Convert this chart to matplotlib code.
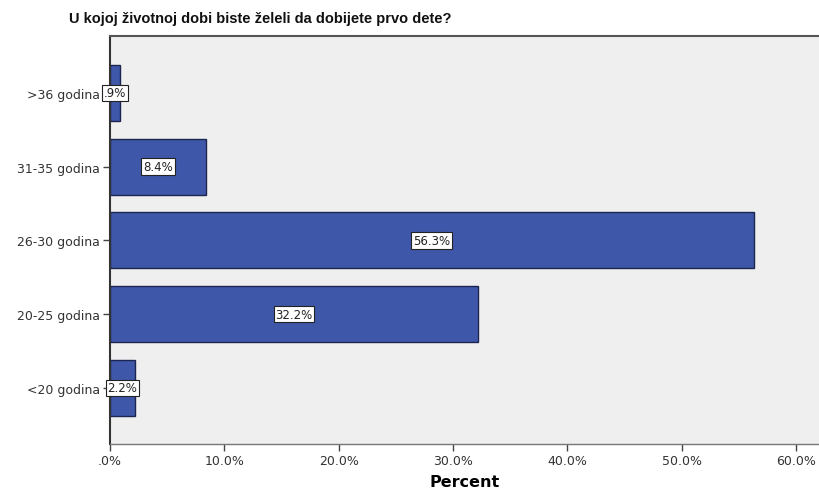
import matplotlib
matplotlib.use('Agg')
import matplotlib.pyplot as plt

# data, bottom to top
categories = ['<20 godina', '20-25 godina', '26-30 godina', '31-35 godina', '>36 godina']
percents = [2.2, 32.2, 56.3, 8.4, 0.9]
labels = ['2.2%', '32.2%', '56.3%', '8.4%', '.9%']
xticks = [0, 10, 20, 30, 40, 50, 60]
xticklabels = ['.0%', '10.0%', '20.0%', '30.0%', '40.0%', '50.0%', '60.0%']

plt.rcParams['font.family'] = ['DejaVu Sans']

fig = plt.figure(figsize=(8.2, 4.89), dpi=100)
ax = fig.add_axes([0.134, 0.09, 0.866, 0.834])
ax.set_facecolor('#efefef')

pos = list(range(len(categories)))
ax.barh(pos, percents, height=0.76, color='#3f57a9', edgecolor='#1c2450', linewidth=1.0)

# value labels in white boxes at the middle of each bar
for p, v, lab in zip(pos, percents, labels):
	ax.text(v / 2.0, p, lab, ha='center', va='center', fontsize=8.5, color='#222222',
		bbox=dict(boxstyle='square,pad=0.15', facecolor='white', edgecolor='#222222', linewidth=0.8))

ax.set_xlim(0, 62.1)
ax.set_ylim(-0.76, 4.77)
ax.set_yticks(pos)
ax.set_yticklabels(categories, fontsize=9, color='#333333')
ax.set_xticks(xticks)
ax.set_xticklabels(xticklabels, fontsize=9, color='#333333')
ax.tick_params(axis='both', direction='out', length=5, width=1, color='#444444', pad=2)
ax.set_xlabel('Percent', fontsize=11.5, fontweight='bold', labelpad=5)

ax.spines['right'].set_visible(False)
ax.spines['left'].set_color('#333333')
ax.spines['left'].set_linewidth(1.5)
ax.spines['top'].set_color('#555555')
ax.spines['top'].set_linewidth(1.5)
ax.spines['bottom'].set_color('#777777')
ax.spines['bottom'].set_linewidth(1.0)

fig.text(69 / 820.0, 1 - 19 / 489.0, 'U kojoj životnoj dobi biste želeli da dobijete prvo dete?',
	fontsize=10.5, fontweight='bold', ha='left', va='center', color='#111111',
	family=['Liberation Sans', 'DejaVu Sans'])

fig.savefig('out.png', dpi=100)
